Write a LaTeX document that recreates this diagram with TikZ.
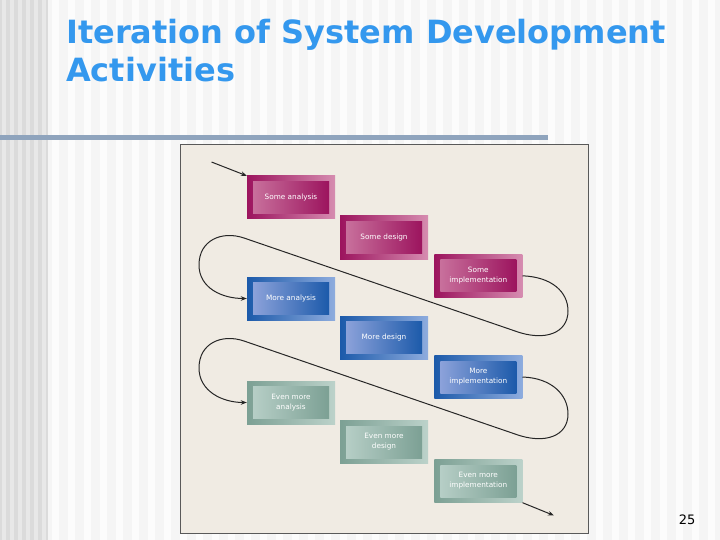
\documentclass[tikz,border=0pt]{standalone}
\usepackage{fontspec}
\setmainfont{DejaVu Sans}
\usetikzlibrary{arrows.meta}
\definecolor{titleblue}{RGB}{52,152,238}
\definecolor{barblue}{RGB}{143,164,189}
\definecolor{paper}{RGB}{240,235,227}
\definecolor{magD}{RGB}{156,20,94}
\definecolor{magL}{RGB}{214,140,176}
\definecolor{magI}{RGB}{200,112,156}
\definecolor{bluD}{RGB}{28,90,170}
\definecolor{bluL}{RGB}{142,172,222}
\definecolor{bluI}{RGB}{140,162,218}
\definecolor{grnD}{RGB}{124,160,148}
\definecolor{grnL}{RGB}{188,210,202}
\definecolor{grnI}{RGB}{182,206,198}
\tikzset{
  outerbox/.style={rectangle, minimum width=88pt, minimum height=43pt, inner sep=0pt},
  innerbox/.style={rectangle, minimum width=76pt, minimum height=32pt, inner sep=0pt,
     text=white, font=\fontsize{7.3}{10}\selectfont, align=center},
  mag/.style={outerbox, left color=magD, right color=magL},
  magin/.style={innerbox, left color=magI, right color=magD},
  blu/.style={outerbox, left color=bluD, right color=bluL},
  bluin/.style={innerbox, left color=bluI, right color=bluD},
  grn/.style={outerbox, left color=grnD, right color=grnL},
  grnin/.style={innerbox, left color=grnI, right color=grnD},
  flow/.style={draw=black!85, line width=1pt, -{Stealth[length=6pt,width=4.5pt]}},
}
\begin{document}
\begin{tikzpicture}[x=1pt,y=-1pt]
\useasboundingbox (0,0) rectangle (720,540);
% background
\fill[black!4] (0,0) rectangle (720,540);
\foreach \i in {0,...,45} { \fill[black!1] (\i*16+4,0) rectangle ++(7,540); }
\fill[black!14] (0,0) rectangle (48,540);
\foreach \i in {0,...,5} { \fill[black!9] (\i*8+2,0) rectangle ++(4,540); }
% title
\node[anchor=base west, text=titleblue, font=\fontsize{32}{38}\selectfont\bfseries, inner sep=0pt] (t1) at (66,43.5) {Iteration of System Development};
\node[anchor=base west, text=titleblue, font=\fontsize{32}{38}\selectfont\bfseries, inner sep=0pt] (t2) at (66,81.8) {Activities};
% bar
\fill[barblue] (0,135) rectangle (548,140.5);
% frame
\draw[fill=paper, draw=black!65, line width=0.9pt] (180.5,144) rectangle (588,533);
% boxes
\node[mag] (A1) at (291,197.5) {};
\node[magin] (A1t) at (A1) {Some analysis};
\node[mag] (D1) at (384,237.5) {};
\node[magin] (D1t) at (D1) {Some design};
\node[mag] (I1) at (478.3,275.8) {};
\node[magin] (I1t) at (I1) {Some\\implementation};
\node[blu] (A2) at (291,298.5) {};
\node[bluin] (A2t) at (A2) {More analysis};
\node[blu] (D2) at (384,337.5) {};
\node[bluin] (D2t) at (D2) {More design};
\node[blu] (I2) at (478.3,377) {};
\node[bluin] (I2t) at (I2) {More\\implementation};
\node[grn] (A3) at (291,402.5) {};
\node[grnin] (A3t) at (A3) {Even more\\analysis};
\node[grn] (D3) at (384,442) {};
\node[grnin] (D3t) at (D3) {Even more\\design};
\node[grn] (I3) at (478.3,481) {};
\node[grnin] (I3t) at (I3) {Even more\\implementation};
% connectors
\coordinate (s) at (211.5,162);
\coordinate (e) at (554,515.5);
\draw[flow] (s) -- (A1.north west);
\draw[flow] (I1.east) .. controls (552,277) and (568,292) .. (568,311)
   .. controls (568,333) and (545,342) .. (515,331)
   -- (244,238)
   .. controls (222,230.5) and (199,240) .. (199,265)
   .. controls (199,288) and (222,298.5) .. (A2.west);
\draw[flow] (I2.east) .. controls (552,378) and (568,395) .. (568,414)
   .. controls (568,436) and (545,445) .. (515,434)
   -- (244,341)
   .. controls (222,333.5) and (199,343) .. (199,368)
   .. controls (199,391) and (222,402.5) .. (A3.west);
\draw[flow] (I3.south east) -- (e);
% page number
\node[anchor=base east, font=\fontsize{13}{15}\selectfont, inner sep=0pt] (pg) at (695.5,524) {25};
\end{tikzpicture}
\end{document}
